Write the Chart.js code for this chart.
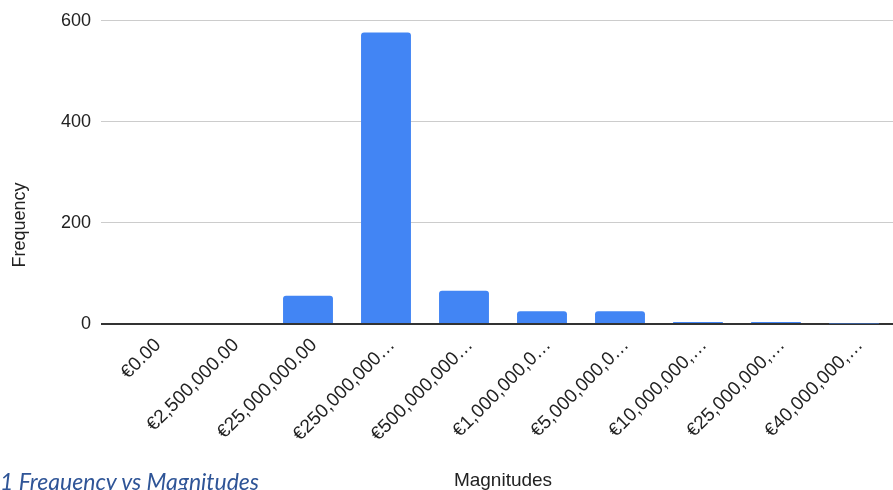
<!DOCTYPE html>
<html>
<head>
<meta charset="utf-8">
<script src="https://cdn.jsdelivr.net/npm/chart.js@4.4.1/dist/chart.umd.min.js"></script>
<style>
    html, body { margin: 0; padding: 0; background: #fff; }
    #wrap { position: relative; width: 893px; height: 490px; overflow: hidden; }
    #chart { position: absolute; left: 0; top: 0; }
    .caption {
        position: absolute; left: 0; top: 469px;
        font-family: "Lato", "Liberation Sans", sans-serif;
        font-style: italic; font-size: 23px; color: #2f5597;
        white-space: nowrap; line-height: 24px;
    }
</style>
</head>
<body>
<div id="wrap">
    <canvas id="chart" width="893" height="490"></canvas>
    <div class="caption">1 Frequency vs Magnitudes</div>
</div>
<script>
    // données
    var magnitudes = [
        '€0.00', '€2,500,000.00', '€25,000,000.00', '€250,000,000…',
        '€500,000,000…', '€1,000,000,0…', '€5,000,000,0…',
        '€10,000,000,…', '€25,000,000,…', '€40,000,000,…'
    ];
    var frequencies = [0, 0, 56, 577, 66, 25, 25, 4, 4, 1];
    var yTicks = [0, 200, 400, 600];

    var labelFont = { family: 'Liberation Sans, Arial, sans-serif', size: 18 };
    var xFont = { family: 'Liberation Sans, Arial, sans-serif', size: 19 };

    // titre de l'axe Y, centré comme dans l'original
    var yTitlePlugin = {
        id: 'yTitle',
        afterDraw: function (chart) {
            var ctx = chart.ctx;
            ctx.save();
            ctx.translate(20, 225);
            ctx.rotate(-Math.PI / 2);
            ctx.font = '18px "Liberation Sans", Arial, sans-serif';
            ctx.fillStyle = '#222';
            ctx.textAlign = 'center';
            ctx.textBaseline = 'middle';
            ctx.fillText('Frequency', 0, 0);
            ctx.restore();
        }
    };

    new Chart(document.getElementById('chart'), {
        type: 'bar',
        data: {
            labels: magnitudes,
            datasets: [{
                data: frequencies,
                backgroundColor: '#4285f4',
                barPercentage: 0.64,
                categoryPercentage: 1,
                borderRadius: { topLeft: 3, topRight: 3 },
                borderSkipped: 'bottom'
            }]
        },
        options: {
            responsive: false,
            animation: false,
            layout: { padding: { top: 19, right: 0, left: 0, bottom: 0 } },
            plugins: {
                legend: { display: false },
                tooltip: { enabled: false }
            },
            scales: {
                x: {
                    offset: true,
                    grid: { display: false, drawTicks: false },
                    border: { display: true, color: '#333', width: 2 },
                    ticks: {
                        autoSkip: false,
                        minRotation: 45,
                        maxRotation: 45,
                        padding: 10,
                        labelOffset: 6,
                        color: '#222',
                        font: xFont
                    },
                    title: {
                        display: true,
                        text: 'Magnitudes',
                        color: '#222',
                        font: { family: 'Liberation Sans, Arial, sans-serif', size: 19, lineHeight: 1 },
                        padding: { top: 0, bottom: 0 }
                    },
                    afterFit: function (scale) { scale.height = 166; }
                },
                y: {
                    min: 0,
                    max: 600,
                    afterBuildTicks: function (scale) {
                        scale.ticks = yTicks.map(function (v) { return { value: v }; });
                    },
                    grid: {
                        color: function (c) { return c.tick && c.tick.value === 0 ? '#333' : '#ccc'; },
                        lineWidth: function (c) { return c.tick && c.tick.value === 0 ? 2 : 1; },
                        tickLength: 12
                    },
                    border: { display: false },
                    ticks: { padding: 10, color: '#222', font: labelFont },
                    afterFit: function (scale) { scale.width = 113; }
                }
            }
        },
        plugins: [yTitlePlugin]
    });
</script>
</body>
</html>
